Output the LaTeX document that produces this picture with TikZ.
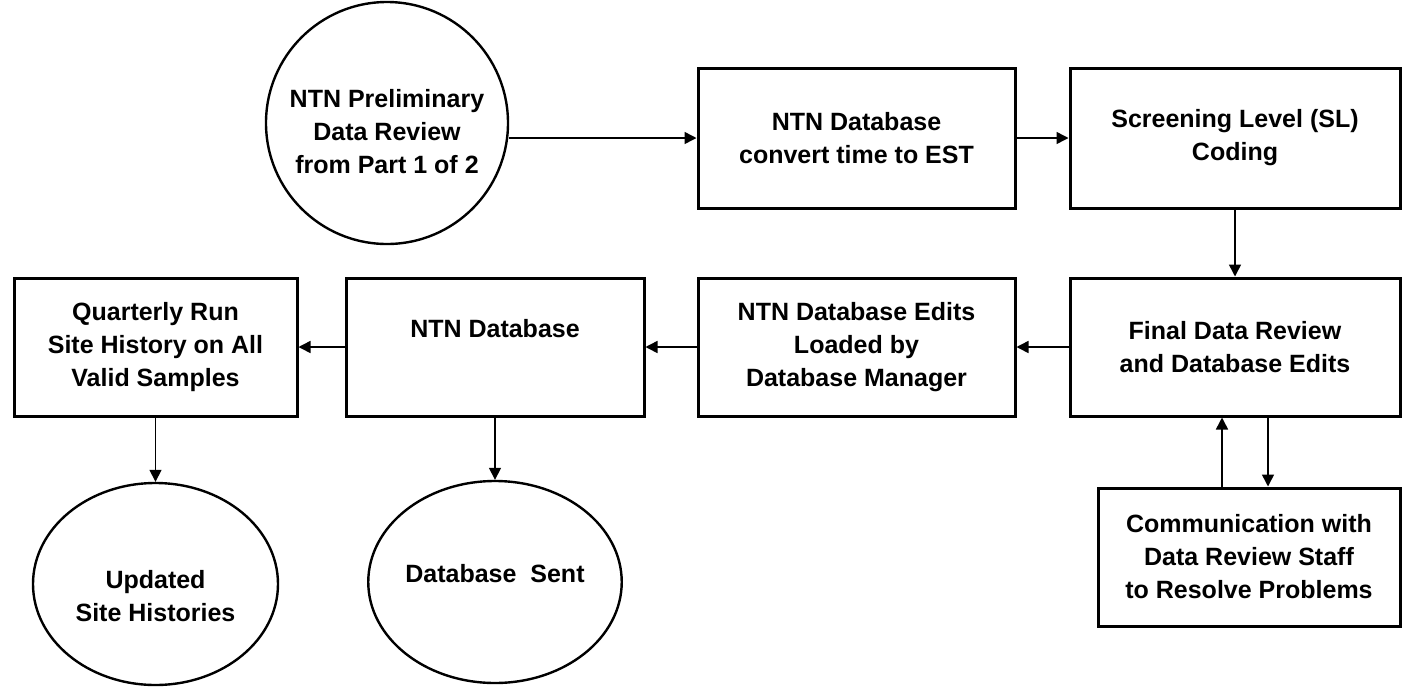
\documentclass[tikz,border=0pt]{standalone}
\usepackage{fontspec}
\setmainfont{Liberation Sans}
\usetikzlibrary{arrows.meta, shapes.geometric}

\begin{document}
\begin{tikzpicture}[x = 0.5pt, y = -0.5pt,
	box/.style = {draw, line width = 1.5pt, align = center, inner sep = 0pt},
	blob/.style = {draw, line width = 1.2pt, align = center, inner sep = 0pt},
	arr/.style = {-{Triangle[length = 6pt, width = 6pt]}, line width = 0.75pt},
	font = \fontsize{12.5}{16.5}\selectfont\bfseries]
\useasboundingbox (0, 0) rectangle (1410, 687);

% top row
\node[blob, circle, minimum size = 121pt] (prelim) at (387, 123)
	{\rule{0pt}{18pt}NTN Preliminary\\ Data Review\\ from Part 1 of 2};
\node[box, minimum width = 158.5pt, minimum height = 70pt] (convert) at (856.5, 138)
	{NTN Database\\ convert time to EST};
\node[box, minimum width = 165pt, minimum height = 70pt] (screen) at (1235, 138)
	{Screening Level (SL)\\ Coding};

% middle row
\node[box, minimum width = 141.5pt, minimum height = 69pt] (quarterly) at (155.5, 347)
	{Quarterly Run\\ Site History on All\\ Valid Samples};
\node[box, minimum width = 149pt, minimum height = 69pt] (ntndb) at (495, 347)
	{\rule{0pt}{12pt}NTN Database\\ \strut};
\node[box, minimum width = 158.5pt, minimum height = 69pt] (edits) at (856.5, 347)
	{NTN Database Edits\\ Loaded by\\ Database Manager};
\node[box, minimum width = 165pt, minimum height = 69pt] (final) at (1235, 347)
	{Final Data Review\\ and Database Edits};

% bottom row
\node[blob, ellipse, minimum width = 122.5pt, minimum height = 101pt] (updated) at (155.5, 584)
	{\rule{0pt}{21pt}Updated\\ Site Histories};
\node[blob, ellipse, minimum width = 122pt, minimum height = 101pt] (sent) at (495, 582)
	{Database\ \ Sent\rule[-9pt]{0pt}{9pt}};
\node[box, minimum width = 151pt, minimum height = 69pt] (comm) at (1249, 557)
	{Communication with\\ Data Review Staff\\ to Resolve Problems};

% connectors
\draw[arr] (prelim.east |- convert.west) -- (convert.west);
\draw[arr] (convert) -- (screen);
\draw[arr] (screen) -- (final);
\draw[arr] (final) -- (edits);
\draw[arr] (edits) -- (ntndb);
\draw[arr] (ntndb) -- (quarterly);
\draw[arr] (quarterly) -- (updated);
\draw[arr] (ntndb) -- (sent);
\draw[arr] ([xshift = -13.5pt]comm.north) -- ([xshift = -13.5pt]comm.north |- final.south);
\draw[arr] ([xshift = 9.5pt]comm.north |- final.south) -- ([xshift = 9.5pt]comm.north);
\end{tikzpicture}
\end{document}
